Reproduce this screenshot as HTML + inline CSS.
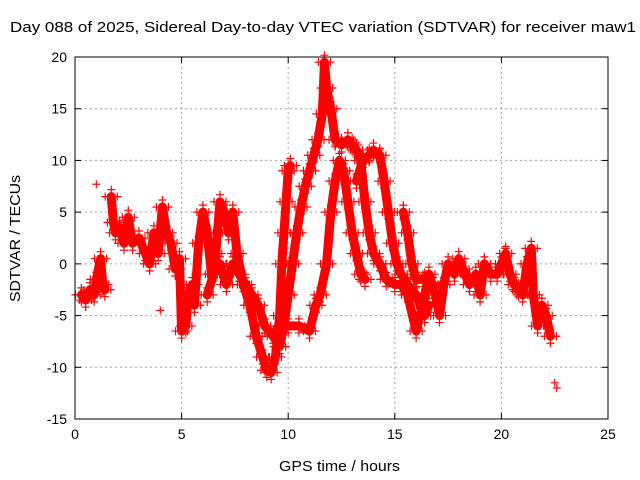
<!DOCTYPE html>
<html><head><meta charset="utf-8">
<style>
body{margin:0;background:#fff;}
svg{display:block;font-family:"Liberation Sans",sans-serif;}
</style></head>
<body>
<svg id="c" width="640" height="480">
<text x="10" y="32" font-size="15" textLength="626" lengthAdjust="spacingAndGlyphs">Day 088 of 2025, Sidereal Day-to-day VTEC variation (SDTVAR) for receiver maw1</text>
<text x="279" y="471" font-size="15" textLength="121" lengthAdjust="spacingAndGlyphs">GPS time / hours</text>
<text transform="translate(20,302) rotate(-90)" font-size="15" textLength="127" lengthAdjust="spacingAndGlyphs">SDTVAR / TECUs</text>
<g id="grid"></g><g id="marks"></g><g id="axes"></g>
</svg>
<script>
const xTicks=[0,5,10,15,20,25];
const yTicks=[-15,-10,-5,0,5,10,15,20];
const track1=[[0.3,-3],[0.5,-3.5],[0.7,-2.5],[0.9,-3],[1.0,-1.5],[1.2,0.5],[1.3,-2],[1.4,-2.5]];
const track2=[[1.7,6.5],[1.8,4],[1.9,3],[2.1,3.5],[2.3,2],[2.5,4.5],[2.7,2],[3.0,2.5],[3.3,1],[3.5,0],[3.7,3],[3.9,1],[4.1,5.5],[4.3,3],[4.5,2],[4.7,-0.5],[4.9,0.5],[5.0,-6.5],[5.2,-6],[5.3,-3],[5.5,-2],[5.6,-4],[5.8,2],[6.0,5],[6.2,3],[6.4,-1],[6.6,1],[6.8,6],[7.0,5],[7.2,3],[7.4,5],[7.6,1],[7.9,-2],[8.2,-4],[8.5,-7],[8.8,-9],[9.0,-10.3],[9.2,-10.5],[9.4,-9],[9.6,-5],[9.7,0],[9.8,3],[9.9,6],[10.0,9],[10.1,9.5]];
const track3=[[6.2,-3],[6.5,-1],[6.8,0],[7.1,-2],[7.4,0],[7.7,-1],[8.0,-2],[8.3,-3],[8.6,-4],[8.9,-6],[9.3,-7],[9.6,-8],[9.8,-6],[10.0,-3],[10.2,0],[10.4,3],[10.6,5.5],[10.8,7.5],[11.0,9],[11.2,10.5],[11.4,12],[11.6,14.5],[11.7,19.5],[11.8,17],[12.0,15],[12.2,12],[12.5,11.5],[12.8,12],[13.0,11.5],[13.2,11],[13.4,10],[13.6,6],[13.8,3],[14.0,1],[14.3,0],[14.6,-1.5],[15.0,-2],[15.3,-2],[15.6,-3],[16.0,-6.5],[16.3,-4],[16.6,-1],[16.9,-3],[17.1,-5],[17.3,-2],[17.5,0],[17.8,-1],[18.0,0.5],[18.2,-0.5],[18.5,-2],[18.8,-1],[19.0,-3],[19.2,0],[19.5,-1],[19.8,-1],[20.0,0],[20.2,1],[20.4,-1],[20.6,-2],[20.8,-2.5],[21.0,-3],[21.2,0],[21.4,1.5],[21.5,-3],[21.7,-6],[21.9,-4],[22.1,-5],[22.3,-7]];
const track4=[[10.0,-6],[10.5,-6],[11.0,-6.5],[11.3,-4],[11.5,-3],[11.8,0],[12.0,5],[12.2,8],[12.4,10],[12.6,9],[12.8,6],[13.0,3],[13.2,1],[13.4,-1],[13.6,-1.5]];
const track5=[[13.2,8],[13.5,10],[13.8,10.5],[14.0,11],[14.3,10.5],[14.5,8],[14.7,5],[14.9,2],[15.1,0],[15.3,-1],[15.6,-2],[16.0,-3],[16.4,-5],[16.6,-4]];
const track6=[[15.4,5],[15.6,3],[15.8,0],[16.0,-1.5],[16.4,-1.5],[16.8,-2]];
const isolated=[[1.0,7.7],[4.0,-4.5],[22.5,-11.5],[22.6,-12],[20.2,1.5]];
const tracks=[track1,track2,track3,track4,track5,track6];

const X0=75,X1=608,Y0=419,Y1=57,NS="http://www.w3.org/2000/svg";
const sx=v=>X0+(v-0)/25*(X1-X0);
const sy=v=>Y0-(v+15)/35*(Y0-Y1);
function mk(t,a,p){const e=document.createElementNS(NS,t);for(const k in a)e.setAttribute(k,a[k]);p.appendChild(e);return e;}
const grid=document.getElementById('grid'),axes=document.getElementById('axes'),marks=document.getElementById('marks');
xTicks.forEach(t=>{const x=sx(t);
 if(t>0&&t<25){const l=mk('line',{x1:x,x2:x,y1:Y1,y2:Y0,stroke:'#a0a0a0','stroke-dasharray':'2,3'},grid);
 }
 mk('line',{x1:x,x2:x,y1:Y0,y2:Y0-6,stroke:'#000'},axes);mk('line',{x1:x,x2:x,y1:Y1,y2:Y1+6,stroke:'#000'},axes);
 const tx=mk('text',{x:x,y:Y0+20,'font-size':14,'text-anchor':'middle'},axes);tx.textContent=t;
 });
yTicks.forEach(t=>{const y=sy(t);
 if(t>-15&&t<20){const l=mk('line',{x1:X0,x2:X1,y1:y,y2:y,stroke:'#a0a0a0','stroke-dasharray':'2,3'},grid);
 }
 mk('line',{x1:X0,x2:X0+6,y1:y,y2:y,stroke:'#000'},axes);mk('line',{x1:X1,x2:X1-6,y1:y,y2:y,stroke:'#000'},axes);
 const tx=mk('text',{x:X0-8,y:y+5,'font-size':14,'text-anchor':'end'},axes);tx.textContent=t;
 });
const fr=mk('rect',{x:X0,y:Y1,width:X1-X0,height:Y0-Y1,fill:'none',stroke:'#000'},axes);

function plus(p,x,y){mk('path',{d:`M${x-4},${y}h8M${x},${y-4}v8`,stroke:'#f00','stroke-width':1.2},p);}
tracks.forEach((tr,i)=>{const g=mk('g',{},marks);
 
 mk('polyline',{points:tr.map(p=>sx(p[0])+','+sy(p[1])).join(' '),fill:'none',stroke:'#f00','stroke-width':9,'stroke-linejoin':'round','stroke-linecap':'round'},g);
 tr.forEach(p=>{const x=sx(p[0]),y=sy(p[1]);plus(g,x-6,y);plus(g,x+6,y);plus(g,x,y-7);plus(g,x,y+7);});});
const gi=mk('g',{},marks);
isolated.forEach(p=>plus(gi,sx(p[0]),sy(p[1])));
</script>
</body></html>
